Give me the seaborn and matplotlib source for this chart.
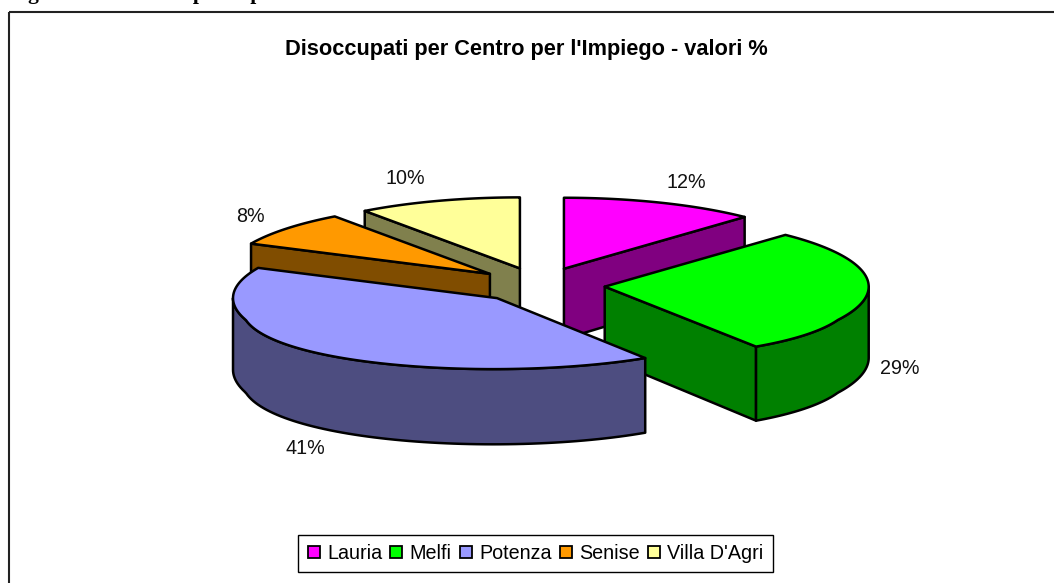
import numpy as np
import seaborn as sns
import matplotlib
matplotlib.use("Agg")
import matplotlib.pyplot as plt
from matplotlib.patches import Patch, Polygon, Rectangle

categories = ["Lauria", "Melfi", "Potenza", "Senise", "Villa D'Agri"]
values = [12, 29, 41, 8, 10]
label_xy = [(686, 182), (900, 369), (305, 448), (250, 216), (405, 178)]
title = "Disoccupati per Centro per l'Impiego - valori %"
caption = "Figura 1.3 - Disoccupati    per"

sns.set_theme(style="white")
plt.rcParams['font.family'] = ['Liberation Sans', 'DejaVu Sans']
palette = sns.color_palette(["#ff00ff", "#00ff00", "#9999ff", "#ff9900", "#ffff99"])

# pie geometry in pixels
cx, cy = 540, 285
rx, ry = 264, 71
explode = 65
depth = 71
thick = 0.05
stretch = 0.0018
near_y = 320


def top_pt(apex, theta):
    x, y = apex[0] + rx * np.sin(theta), apex[1] - ry * np.cos(theta)
    # near side of the pie is drawn a bit wider
    return cx + (x - cx) * (1 + stretch * max(0, y - near_y)), y


def low(p):
    return p[0], p[1] + depth + thick * (p[1] - cy)


def wall(top):
    return list(top) + [low(p) for p in reversed(top)]


fig = plt.figure(figsize=(10.54, 5.83), dpi=100)
ax = fig.add_axes([0, 0, 1, 1])
ax.set_xlim(0, 1054)
ax.set_ylim(583, 0)
ax.axis("off")

ax.add_patch(Rectangle((9, 12), 1200, 700, fill=False, ec="#222222", lw=1.5))
ax.text(9, -1, caption, family="Liberation Serif", weight="bold", fontsize=15.5,
        color="black", va="baseline", ha="left")
ax.text(526.5, 49, title, weight="bold", fontsize=15.7, color="black", ha="center", va="center")

edges = np.cumsum([0] + values) / sum(values) * 2 * np.pi
slices = []
for i, col in enumerate(palette):
    t1, t2 = edges[i], edges[i + 1]
    mid = (t1 + t2) / 2
    apex = (cx + explode * np.sin(mid), cy - explode * ry / rx * np.cos(mid))
    slices.append((apex[1], i, t1, t2, apex, col))

for _, i, t1, t2, apex, col in sorted(slices, key=lambda s: s[0]):
    dark = tuple(c * 0.5 for c in col)
    style = dict(ec="black", lw=1.8, joinstyle="round")
    # radial walls, only those turned towards the viewer
    if np.sin(t1) < -1e-6:
        ax.add_patch(Polygon(wall([apex, top_pt(apex, t1)]), fc=dark, **style))
    if np.sin(t2) > 1e-6:
        ax.add_patch(Polygon(wall([apex, top_pt(apex, t2)]), fc=dark, **style))
    # outer wall on the front half
    a1, a2 = max(t1, np.pi / 2), min(t2, 1.5 * np.pi)
    if a2 > a1:
        arc = [top_pt(apex, t) for t in np.linspace(a1, a2, 80)]
        ax.add_patch(Polygon(wall(arc), fc=dark, **style))
    rim = [top_pt(apex, t) for t in np.linspace(t1, t2, 120)]
    ax.add_patch(Polygon([apex] + rim, fc=col, **style))

for v, (x, y) in zip(values, label_xy):
    ax.text(x, y, f"{v}%", fontsize=14.2, color="#111111", ha="center", va="center")

handles = [Patch(fc=c, ec="black", lw=1.3) for c in palette]
fig.legend(handles, categories, ncol=5, loc="center",
           bbox_to_anchor=(535.5 / 1054, 1 - 553.5 / 583), fontsize=14.2,
           frameon=True, fancybox=False, framealpha=1, edgecolor="black",
           handlelength=0.61, handleheight=0.61, handletextpad=0.36,
           columnspacing=0.42, borderpad=0.48, labelcolor="black")

fig.savefig("out.png", dpi=100)
